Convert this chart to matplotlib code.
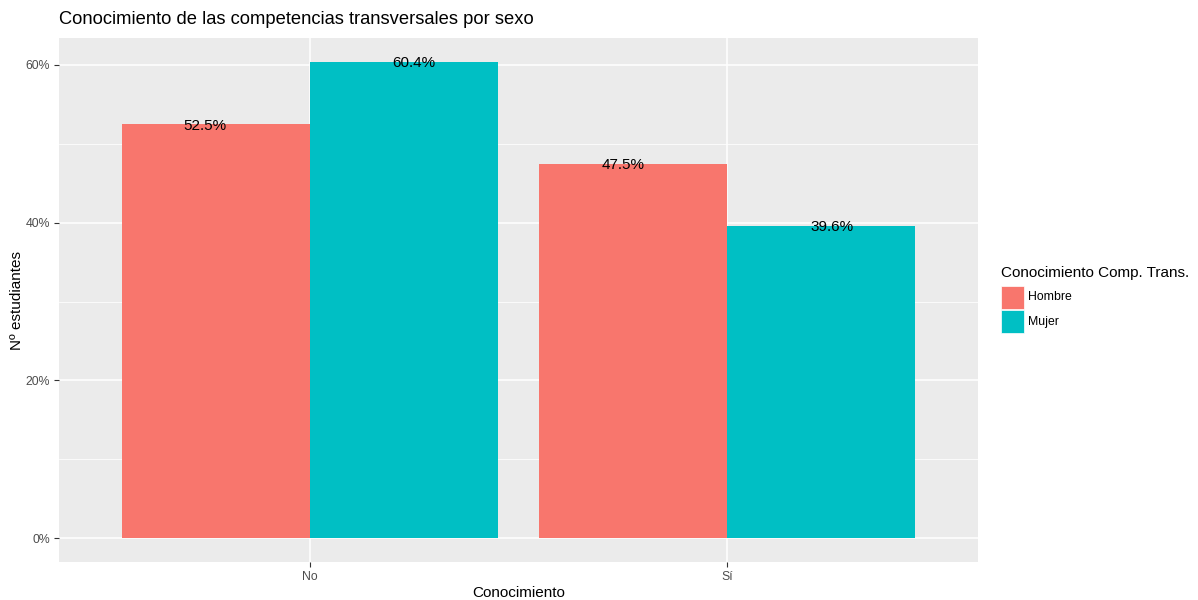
import numpy as np
import matplotlib.pyplot as plt
from matplotlib.patches import Rectangle

plt.rcParams['font.family'] = ['Liberation Sans', 'DejaVu Sans']

# -----------------------------
# Data
# -----------------------------
categories = ['No', 'Sí']
groups = ['Hombre', 'Mujer']
hombre = [52.5, 47.5]
mujer = [60.4, 39.6]
colors = ['#F8766D', '#00BFC4']

W, H = 1198, 600
fig = plt.figure(figsize=(W / 100, H / 100), dpi=100)
fig.patch.set_facecolor('white')

# panel in pixel coordinates
px0, px1, py0, py1 = 59, 978, 38, 562
ax = fig.add_axes([px0 / W, 1 - py1 / H, (px1 - px0) / W, (py1 - py0) / H])
ax.set_facecolor('#EBEBEB')

x = np.arange(1, len(categories) + 1)
bw = 0.45
series = [hombre, mujer]
for k, (vals, col) in enumerate(zip(series, colors)):
    offs = (k - 0.5) * bw
    ax.bar(x + offs, vals, width=bw, color=col, zorder=3, linewidth=0)
    # labels dodged with width 1
    for xi, v in zip(x, vals):
        ax.text(xi + (k - 0.5) * 0.5, v, f'{v:.1f}%', ha='center', va='center_baseline',
                fontsize=11, color='black', zorder=4)

ymax = max(max(hombre), max(mujer))
ax.set_ylim(-0.05 * ymax, 1.05 * ymax)
ax.set_xlim(0.4, 2.6)

yt = [0, 20, 40, 60]
ax.set_yticks(yt)
ax.set_yticklabels([f'{v}%' for v in yt])
ax.set_yticks([10, 30, 50], minor=True)
ax.set_xticks(x)
ax.set_xticklabels(categories)

ax.grid(which='major', color='white', linewidth=1.1, zorder=0)
ax.grid(which='minor', axis='y', color='white', linewidth=0.55, zorder=0)
ax.set_axisbelow(True)
for s in ax.spines.values():
    s.set_visible(False)
ax.tick_params(axis='both', which='major', length=3.5, width=0.8, color='#333333',
               labelsize=8.8, labelcolor='#4D4D4D', pad=3)
ax.tick_params(axis='y', which='minor', length=0)

ax.set_xlabel('Conocimiento', fontsize=11, color='black', labelpad=2)
ax.set_ylabel('Nº estudiantes', fontsize=11, color='black', labelpad=1)

fig.text(px0 / W, 1 - 19 / H, 'Conocimiento de las competencias transversales por sexo',
         fontsize=13.2, ha='left', va='center', color='black')

# -----------------------------
# Legend (drawn manually)
# -----------------------------
fig.text(1001 / W, 1 - 273 / H, 'Conocimiento Comp. Trans.', fontsize=11,
         ha='left', va='center', color='black')
key_top = 286
key = 23
for i, (g, col) in enumerate(zip(groups, colors)):
    top = key_top + i * (key + 1)
    fig.add_artist(Rectangle((1001 / W, 1 - (top + key) / H), key / W, key / H,
                             transform=fig.transFigure, facecolor=col,
                             edgecolor='white', linewidth=0.5))
    fig.text(1028 / W, 1 - (top + key / 2) / H, g, fontsize=8.8, ha='left',
             va='center', color='black')

fig.savefig('out.png', dpi=100)
